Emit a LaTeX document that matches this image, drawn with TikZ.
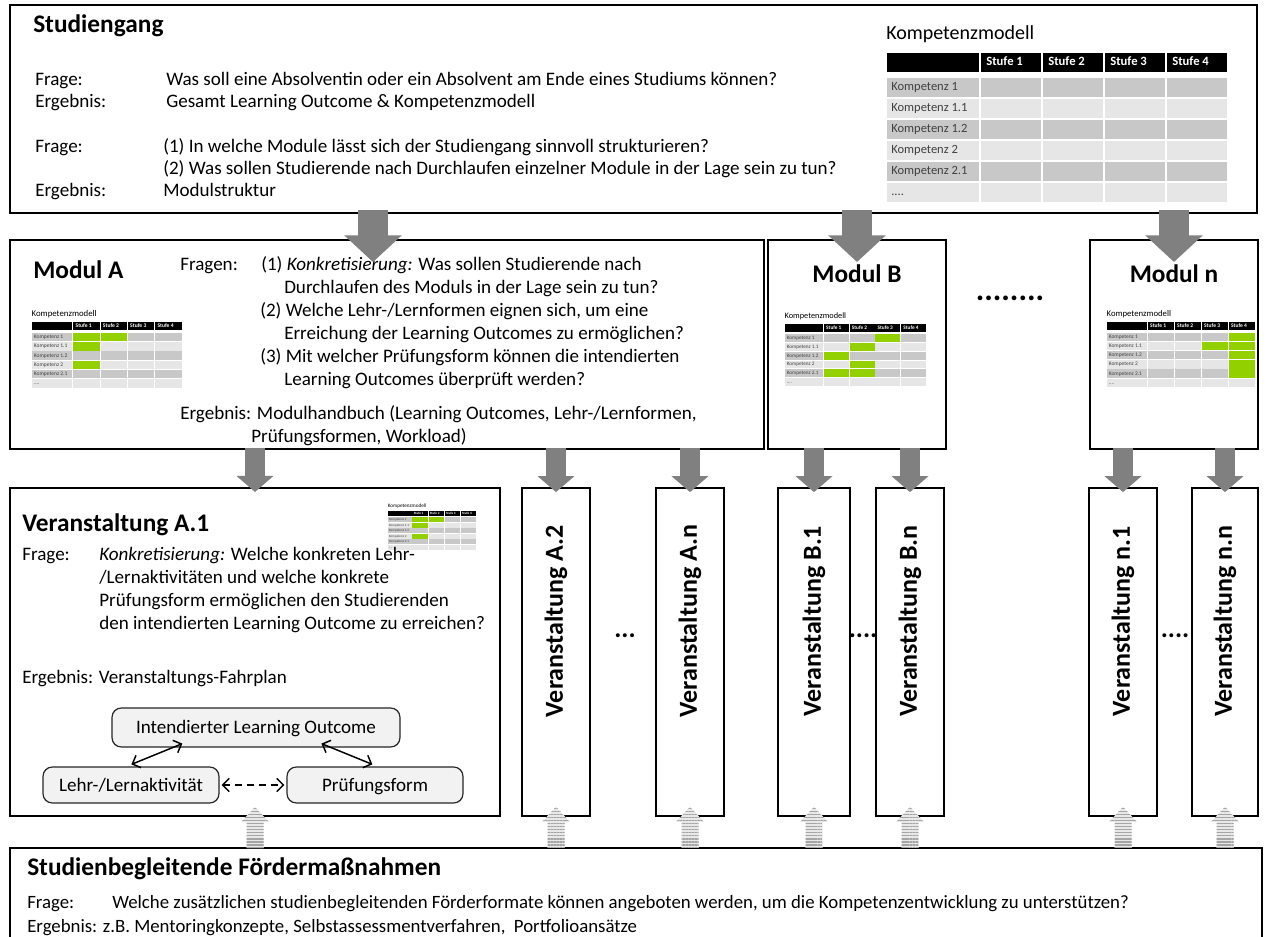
\documentclass[tikz,border=0pt]{standalone}
\usepackage{fontspec}
\setmainfont{Carlito}
\usetikzlibrary{arrows.meta,calc,fit,patterns.meta}

\definecolor{kdark}{RGB}{200,200,200}
\definecolor{klight}{RGB}{230,230,230}
\definecolor{kgreen}{RGB}{146,208,0}
\definecolor{ktext}{RGB}{64,64,64}
\definecolor{arrgray}{RGB}{128,128,128}
\definecolor{rboxfill}{RGB}{242,242,242}
\definecolor{stripebg}{RGB}{232,232,232}
\definecolor{stripefg}{RGB}{165,165,165}

\newcommand\kdots{....}
% Kompetenzmodell table: #1,#2 = top left corner of the header row,
% #3 = scale, #4 = green cells as column/row pairs (may be empty)
\newcommand\kmodell[4]{%
  \begin{scope}[shift={(#1,#2)},scale=#3,every node/.append style={transform shape,inner sep=0pt}]
    \node[anchor=base west,font=\fontsize{15}{17}\selectfont] at (-1,-13) {Kompetenzmodell};
    \fill[black] (0,0) rectangle (92,19);
    \foreach \kj in {1,2,3,4}{%
      \fill[black] ({94+(\kj-1)*62},0) rectangle ({154+(\kj-1)*62},19);
      \node[anchor=base west,text=white,font=\bfseries\fontsize{9.5}{11}\selectfont] at ({99+(\kj-1)*62},13) {Stufe \kj};
    }
    \foreach \ki/\lab in {1/Kompetenz 1,2/Kompetenz 1.1,3/Kompetenz 1.2,4/Kompetenz 2,5/Kompetenz 2.1,6/\kdots}{%
      \pgfmathsetmacro\ytop{25+(\ki-1)*21}
      \ifodd\ki\relax\def\kcol{kdark}\else\def\kcol{klight}\fi
      \fill[\kcol] (0,\ytop) rectangle (92,{\ytop+19});
      \foreach \kj in {1,2,3,4}{\fill[\kcol] ({94+(\kj-1)*62},\ytop) rectangle ({154+(\kj-1)*62},{\ytop+19});}
      \node[anchor=base west,text=ktext,font=\fontsize{9.4}{11}\selectfont] at (4,{\ytop+13}) {\lab};
    }
    \if\relax\detokenize{#4}\relax\else
      \foreach \kj/\ki in {#4}{\fill[kgreen] ({94+(\kj-1)*62},{25+(\ki-1)*21}) rectangle ({154+(\kj-1)*62},{25+(\ki-1)*21+19});}
    \fi
  \end{scope}}

\begin{document}
\begin{tikzpicture}[x=0.75pt,y=-0.75pt,
  box/.style={draw=black,line width=1.5pt,fill=white,inner sep=0pt},
  vbox/.style={draw=black,line width=1.3pt,fill=white,inner sep=0pt},
  rbox/.style={draw=black!85,line width=0.9pt,fill=rboxfill,rounded corners=7pt,inner sep=0pt},
  rtext/.style={anchor=base,inner sep=0pt,font=\fontsize{14.3}{17}\selectfont},
  txt/.style={anchor=base west,inner sep=0pt,font=\fontsize{14.3}{17.25}\selectfont},
  stxt/.style={anchor=base west,inner sep=0pt,font=\fontsize{14.1}{17}\selectfont},
  ttl/.style={anchor=base west,inner sep=0pt,font=\bfseries\fontsize{19}{22}\selectfont},
  cttl/.style={anchor=base,inner sep=0pt,font=\bfseries\fontsize{19}{22}\selectfont},
  vlabel/.style={rotate=90,inner sep=0pt,font=\bfseries\fontsize{19.5}{22}\selectfont},
  dots/.style={anchor=base,inner sep=0pt,font=\bfseries\fontsize{20}{22}\selectfont},
  bigarrow/.style={draw=arrgray,line width=22.5pt,-{Triangle[width=42pt,length=20pt]}},
  midarrow/.style={draw=arrgray,line width=14.5pt,-{Triangle[width=27pt,length=12pt]}},
  dblarrow/.style={draw=black,line width=1.1pt,
    {Straight Barb[length=5pt,width=10pt]}-{Straight Barb[length=5pt,width=10pt]}},
  stripearrow/.pic={
    \path[fill=stripebg,postaction={pattern={Lines[angle=0,distance=2.3pt,line width=1pt]},pattern color=stripefg}]
      (0,0) -- (14,15) -- (8.5,15) -- (8.5,41) -- (-8.5,41) -- (-8.5,15) -- (-14,15) -- cycle;
  }
]
\useasboundingbox (0,0) rectangle (1268,937);
\fill[white] (0,0) rectangle (1268,937);

% ---------------- Studiengang ----------------
\node[box,fit={(10,5) (1257,213)}] (stud) {};
\node[ttl] (studT) at (33,33) {Studiengang};
\node[txt] (studQ1l) at (35,86) {Frage:};
\node[txt] (studQ1) at (166,86) {Was soll eine Absolventin oder ein Absolvent am Ende eines Studiums können?};
\node[txt] (studE1l) at (35,108) {Ergebnis:};
\node[txt] (studE1) at (166,108) {Gesamt Learning Outcome \& Kompetenzmodell};
\node[txt] (studQ2l) at (35,153) {Frage:};
\node[txt] (studQ2a) at (163,153) {(1) In welche Module lässt sich der Studiengang sinnvoll strukturieren?};
\node[txt] (studQ2b) at (163,175) {(2) Was sollen Studierende nach Durchlaufen einzelner Module in der Lage sein zu tun?};
\node[txt] (studE2l) at (35,197) {Ergebnis:};
\node[txt] (studE2) at (163,197) {Modulstruktur};
\kmodell{887}{53}{1}{}

% ---------------- Module ----------------
\node[box,fit={(10,240) (764,449)}] (modA) {};
\node[ttl] (modAT) at (33,279) {Modul A};
\kmodell{32}{322}{0.44}{1/1,2/1,1/2,1/4}
\node[txt] (mAq0) at (180,271) {Fragen:};
\node[txt] (mAq1) at (261,271) {(1) \textit{Konkretisierung:} Was sollen Studierende nach};
\node[txt] (mAq1b) at (284,294) {Durchlaufen des Moduls in der Lage sein zu tun?};
\node[txt] (mAq2) at (260,317) {(2) Welche Lehr-/Lernformen eignen sich, um eine};
\node[txt] (mAq2b) at (284,340) {Erreichung der Learning Outcomes zu ermöglichen?};
\node[txt] (mAq3) at (260,363) {(3) Mit welcher Prüfungsform können die intendierten};
\node[txt] (mAq3b) at (284,386) {Learning Outcomes überprüft werden?};
\node[txt] (mAe) at (180,420) {Ergebnis: Modulhandbuch (Learning Outcomes, Lehr-/Lernformen,};
\node[txt] (mAe2) at (251,443) {Prüfungsformen, Workload)};

\node[box,fit={(768,240) (946,449)}] (modB) {};
\node[cttl] (modBT) at (857,283) {Modul B};
\kmodell{785}{324}{0.415}{3/1,2/2,1/3,2/4,1/5,2/5}

\node[dots,font=\bfseries\fontsize{24}{26}\selectfont] (mdots) at (1010,301) {........};

\node[box,fit={(1090,240) (1258,449)}] (modN) {};
\node[cttl] (modNT) at (1174,283) {Modul n};
\kmodell{1107}{322}{0.435}{4/1,3/2,4/2,4/3,4/4,4/5}

% ---------------- Veranstaltungen ----------------
\node[box,fit={(10,488) (500,816)}] (vA1) {};
\node[ttl] (vA1T) at (22,532) {Veranstaltung A.1};
\kmodell{388}{511}{0.26}{1/1,2/1,1/2,1/4}
\node[txt] (vA1q0) at (22,561) {Frage:};
\node[txt] (vA1q1) at (99,561) {\textit{Konkretisierung:} Welche konkreten Lehr-};
\node[txt] (vA1q2) at (99,584) {/Lernaktivitäten und welche konkrete};
\node[txt] (vA1q3) at (99,607) {Prüfungsform ermöglichen den Studierenden};
\node[txt] (vA1q4) at (99,630) {den intendierten Learning Outcome zu erreichen?};
\node[txt] (vA1e) at (22,683) {Ergebnis: Veranstaltungs-Fahrplan};

% Fahrplan: three rounded boxes with double-headed arrows
\node[rbox,fit={(112,708) (400,747)}] (rIO) {};
\node[rtext] (rIOt) at ($(rIO.center)+(0,6)$) {Intendierter Learning Outcome};
\node[rbox,fit={(43,767) (219,803)}] (rLA) {};
\node[rtext] (rLAt) at ($(rLA.center)+(0,6)$) {Lehr-/Lernaktivität};
\node[rbox,fit={(287,767) (463,803)}] (rPF) {};
\node[rtext] (rPFt) at ($(rPF.center)+(0,6)$) {Prüfungsform};
\draw[dblarrow] ($(rLA.north west)+(89,-2)$) -- ($(rIO.south west)+(71,-4)$);
\draw[dblarrow] ($(rIO.south west)+(210,-4)$) -- ($(rPF.north west)+(86,-2)$);
\draw[dblarrow,dashed,dash pattern=on 5pt off 4pt] ($(rLA.east)+(2,0)$) -- ($(rPF.west)+(-2,0)$);

\node[vbox,fit={(522,488) (590,816)}] (vA2) {};
\node[vbox,fit={(656,488) (724,816)}] (vAn) {};
\node[vbox,fit={(778,488) (850,816)}] (vB1) {};
\node[vbox,fit={(876,488) (944,816)}] (vBn) {};
\node[vbox,fit={(1089,488) (1157,816)}] (vN1) {};
\node[vbox,fit={(1192,488) (1258,816)}] (vNn) {};
\node[vlabel] (lA2) at ($(vA2.north)+(0,134)$) {Veranstaltung A.2};
\node[vlabel] (lAn) at ($(vAn.north)+(0,134)$) {Veranstaltung A.n};
\node[vlabel] (lB1) at ($(vB1.north)+(0,134)$) {Veranstaltung B.1};
\node[vlabel] (lBn) at ($(vBn.north)+(0,134)$) {Veranstaltung B.n};
\node[vlabel] (lN1) at ($(vN1.north)+(0,134)$) {Veranstaltung n.1};
\node[vlabel] (lNn) at ($(vNn.north)+(0,134)$) {Veranstaltung n.n};
\node[dots] (dA) at (625,638) {...};
\node[dots] (dB) at (863,638) {....};
\node[dots] (dN) at (1175,638) {....};

% ---------------- Studienbegleitende Fördermaßnahmen ----------------
\node[box,fit={(10,848) (1262,960)}] (foerd) {};
\node[ttl] (fT) at (27,875) {Studienbegleitende Fördermaßnahmen};
\node[stxt] (fq0) at (27,908) {Frage:};
\node[stxt] (fq) at (112,908) {Welche zusätzlichen studienbegleitenden Förderformate können angeboten werden, um die Kompetenzentwicklung zu unterstützen?};
\node[stxt] (fe) at (27,932) {Ergebnis: z.B. Mentoringkonzepte, Selbstassessmentverfahren,\ \ Portfolioansätze};

% ---------------- block arrows ----------------
\draw[bigarrow] ($(stud.south -| modA.north)+(-14,-4)$) -- ($(modA.north)+(-14,23)$);
\draw[bigarrow] ($(stud.south -| modB.north)+(0,-4)$) -- ($(modB.north)+(0,23)$);
\draw[bigarrow] ($(stud.south -| modN.north)+(0,-4)$) -- ($(modN.north)+(0,23)$);
\foreach \m/\v in {modA/vA1,modA/vA2,modA/vAn,modB/vB1,modB/vBn,modN/vN1,modN/vNn}
  \draw[midarrow] ($(\m.south -| \v.north)+(0,-2)$) -- ($(\v.north)+(0,5)$);
\foreach \v in {vA1,vA2,vAn,vB1,vBn,vN1,vNn}
  \pic at ($(\v.south)+(0,-10)$) {stripearrow};
\end{tikzpicture}
\end{document}
